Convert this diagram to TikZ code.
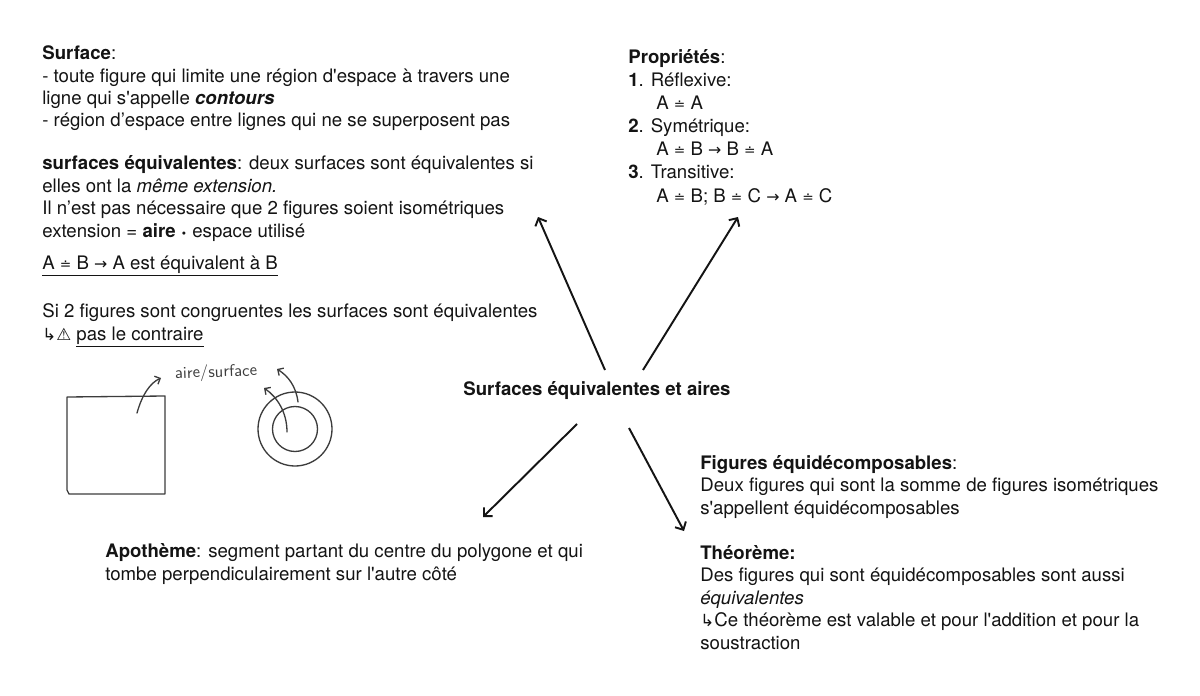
\documentclass[tikz,border=0pt]{standalone}
\usepackage{fontspec}
\setmainfont{TeX Gyre Heros}
\newfontfamily\symfont{DejaVu Sans}
\usetikzlibrary{arrows.meta,positioning}
\definecolor{inkblack}{RGB}{20,20,20}
\definecolor{pencil}{RGB}{60,60,60}
\newcommand{\eqd}{{\symfont\fontsize{7.8}{8}\selectfont ≐}}
\newcommand{\tto}{{\symfont\fontsize{9}{8}\selectfont →}}
\newcommand{\hookto}{{\symfont\fontsize{9.5}{8}\selectfont ↳}}
\newcommand{\warnsym}{{\symfont\fontsize{9.5}{8}\selectfont ⚠}}
\newcommand{\middot}{{\symfont\fontsize{6}{6}\selectfont •}}
\newcommand{\q}{\textquotesingle}

\begin{document}
\begin{tikzpicture}[x=0.02cm, y=-0.02cm,
  txt/.style={anchor=base west, align=left, inner sep=0pt, text=inkblack,
              font=\fontsize{10.6}{12.8}\selectfont},
  link/.style={inkblack, line width=1.1pt, -{Straight Barb[length=3.5pt,width=7pt]}},
  sketch/.style={pencil, line width=0.75pt, line cap=round, line join=round},
  sketcharrow/.style={sketch, -{Straight Barb[length=2.5pt,width=5pt]}}]
  \useasboundingbox[fill=white] (0,0) rectangle (1200,696);

  % left column (anchors sit on the last baseline)
  \node[txt] (surface) at (42,127) {\textbf{Surface}:\\
    - toute figure qui limite une région d\q espace à travers une\\
    ligne qui s\q appelle \textbf{\textit{contours}}\\
    - région d’espace entre lignes qui ne se superposent pas};
  \node[txt] (equiv) at (42,237) {\textbf{surfaces équivalentes}: deux surfaces sont équivalentes si\\
    elles ont la \textit{même extension.}\\
    Il n’est pas nécessaire que 2 figures soient isométriques\\
    extension = \textbf{aire} \middot{} espace utilisé};
  \node[txt] (notation) at (42,269) {\underline{A \eqd{} B \tto{} A est équivalent à B}};
  \node[txt] (congru) at (42,340) {Si 2 figures sont congruentes les surfaces sont équivalentes\\
    \hookto\warnsym{} \underline{pas le contraire}};

  % sketch: square and rings
  \draw[sketch] (67,397) -- (165,396) -- (165,494) -- (69,494) -- (67,490) -- cycle;
  \draw[sketch] (295,429) circle[radius=37];
  \draw[sketch] (295,429) circle[radius=22.5];
  \node[inner sep=0pt, text=pencil, rotate=2, font=\fontsize{9.5}{10}\selectfont\sffamily] (airelbl) at (216,373) {aire/surface};
  \draw[sketcharrow] (137,413) .. controls (142,395) and (150,383) .. (161,378);
  \draw[sketcharrow] (287,432) .. controls (287,412) and (277,397) .. (264,388);
  \draw[sketcharrow] (298,402) .. controls (296,386) and (288,376) .. (277,369);

  % right column
  \node[txt, font=\fontsize{10.6}{13.1}\selectfont] (props) at (628,202) {\textbf{Propriétés}:\\
    \textbf{1}. Réflexive:\\
    \hspace*{0.56cm}A \eqd{} A\\
    \textbf{2}. Symétrique:\\
    \hspace*{0.56cm}A \eqd{} B \tto{} B \eqd{} A\\
    \textbf{3}. Transitive:\\
    \hspace*{0.56cm}A \eqd{} B; B \eqd{} C \tto{} A \eqd{} C};

  % centre
  \node[inner sep=0pt, text=inkblack, font=\fontsize{10.6}{12.8}\selectfont\bfseries] (title) at (597,391) {Surfaces équivalentes et aires};

  % bottom
  \node[txt] (apotheme) at (105,580) {\textbf{Apothème}: segment partant du centre du polygone et qui\\
    tombe perpendiculairement sur l\q autre côté};
  \node[txt] (equidec) at (700,649) {\textbf{Figures équidécomposables}:\\
    Deux figures qui sont la somme de figures isométriques\\
    s\q appellent équidécomposables\\[12.8pt]
    \textbf{Théorème:}\\
    Des figures qui sont équidécomposables sont aussi\\
    \textit{équivalentes}\\
    \hookto Ce théorème est valable et pour l\q addition et pour la\\
    soustraction};

  % connectors
  \coordinate (tNW) at (605,370);
  \coordinate (tNE) at (643,370);
  \coordinate (tSW) at (577,424);
  \coordinate (tSE) at (629,428);
  \coordinate (eqEnd) at (538,217);
  \coordinate (propEnd) at (738,217);
  \coordinate (apoEnd) at (483,517);
  \coordinate (decEnd) at (684,531);
  \draw[link] (tNW) -- (eqEnd);
  \draw[link] (tNE) -- (propEnd);
  \draw[link] (tSW) -- (apoEnd);
  \draw[link] (tSE) -- (decEnd);
\end{tikzpicture}
\end{document}
